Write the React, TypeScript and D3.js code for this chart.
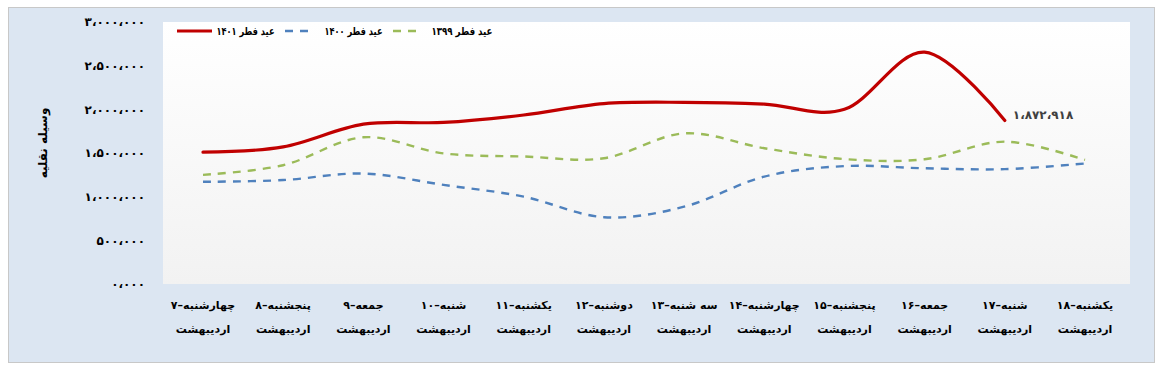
import React from "react";
import * as d3 from "d3";

const dayLabels = [
  "چهارشنبه–۷",
  "پنجشنبه–۸",
  "جمعه–۹",
  "شنبه–۱۰",
  "یکشنبه–۱۱",
  "دوشنبه–۱۲",
  "سه شنبه–۱۳",
  "چهارشنبه–۱۴",
  "پنجشنبه–۱۵",
  "جمعه–۱۶",
  "شنبه–۱۷",
  "یکشنبه–۱۸",
];
const monthLabel = "اردیبهشت";

const series1401: (number | null)[] = [1510000, 1570000, 1830000, 1850000, 1935000, 2065000, 2080000, 2060000, 2000000, 2655000, 1872918, null];
const series1400: number[] = [1170000, 1190000, 1265000, 1135000, 1000000, 765000, 885000, 1230000, 1350000, 1325000, 1315000, 1380000];
const series1399: number[] = [1250000, 1360000, 1680000, 1495000, 1460000, 1440000, 1725000, 1555000, 1430000, 1428000, 1630000, 1420000];

const yTicks = [0, 500000, 1000000, 1500000, 2000000, 2500000, 3000000];
const yTickLabels = ["۰،۰۰۰", "۵۰۰،۰۰۰", "۱،۰۰۰،۰۰۰", "۱،۵۰۰،۰۰۰", "۲،۰۰۰،۰۰۰", "۲،۵۰۰،۰۰۰", "۳،۰۰۰،۰۰۰"];
const yTitle = "وسیله نقلیه";
const legendNames = ["عید فطر ۱۴۰۱", "عید فطر ۱۴۰۰", "عید فطر ۱۳۹۹"];
const lastLabel = "۱،۸۷۲،۹۱۸";

const FONT = "'DejaVu Sans', sans-serif";

export default function App() {
  const W = 1163, H = 374;
  const plot = { x0: 163, y0: 22, x1: 1130, y1: 284 };
  const x = d3.scalePoint<number>().domain(d3.range(dayLabels.length)).range([203, 1085]);
  const y = d3.scaleLinear().domain([0, 3000000]).range([284, 22]);
  const line = d3
    .line<number | null>()
    .defined((d) => d !== null)
    .x((_, i) => x(i) as number)
    .y((d) => y(d as number))
    .curve(d3.curveCardinal.tension(0));

  const seriesDefs = [
    { name: legendNames[0], data: series1401, color: "#c00000", width: 3.2, dash: undefined as string | undefined },
    { name: legendNames[1], data: series1400, color: "#4f81bd", width: 2.4, dash: "8,7" },
    { name: legendNames[2], data: series1399, color: "#9bbb59", width: 2.4, dash: "8,7" },
  ];

  const legendItems = [
    { lx0: 177, lx1: 212, tx: 245.5, tw: 58 },
    { lx0: 285, lx1: 308, tx: 353.5, tw: 58 },
    { lx0: 393, lx1: 418, tx: 462, tw: 61 },
  ];

  const lastIdx = 10;

  return (
    <svg width={W} height={H} style={{ position: "absolute", left: 0, top: 0 }}>
      <defs>
        <linearGradient id="plotGrad" x1="0" y1="0" x2="0" y2="1">
          <stop offset="0" stopColor="#ffffff" />
          <stop offset="1" stopColor="#f2f2f2" />
        </linearGradient>
      </defs>
      <rect x={8.5} y={7.5} width={1146} height={355} fill="#dce6f2" stroke="#c8c8c8" strokeWidth={1} />
      <rect x={plot.x0} y={plot.y0} width={plot.x1 - plot.x0} height={plot.y1 - plot.y0} fill="url(#plotGrad)" />

      {yTicks.map((t, i) => (
        <text
          key={t}
          x={145}
          y={y(t)}
          dy="0.35em"
          textAnchor="end"
          fontFamily={FONT}
          fontWeight="bold"
          fontSize={12}
          fill="#000"
          direction="ltr"
        >
          {yTickLabels[i]}
        </text>
      ))}

      <text
        transform={`translate(47,143) rotate(-90)`}
        textAnchor="middle"
        fontFamily={FONT}
        fontWeight="bold"
        fontSize={12}
        direction="rtl"
      >
        {yTitle}
      </text>

      {dayLabels.map((d, i) => (
        <g key={i}>
          <text x={x(i)} y={309} textAnchor="middle" fontFamily={FONT} fontWeight="bold" fontSize={11} direction="rtl">
            {d}
          </text>
          <text x={x(i)} y={333} textAnchor="middle" fontFamily={FONT} fontWeight="bold" fontSize={11} direction="rtl">
            {monthLabel}
          </text>
        </g>
      ))}

      {seriesDefs.slice().reverse().map((s) => (
        <path
          key={s.name}
          d={line(s.data) || ""}
          fill="none"
          stroke={s.color}
          strokeWidth={s.width}
          strokeDasharray={s.dash}
          strokeLinecap={s.dash ? "butt" : "round"}
        />
      ))}

      <text
        x={(x(lastIdx) as number) + 8}
        y={y(series1401[lastIdx] as number) - 6}
        dy="0.35em"
        textAnchor="start"
        fontFamily={FONT}
        fontWeight="bold"
        fontSize={12}
        fill="#404040"
        direction="ltr"
      >
        {lastLabel}
      </text>

      {seriesDefs.map((s, i) => (
        <g key={s.name}>
          <line
            x1={legendItems[i].lx0}
            x2={legendItems[i].lx1}
            y1={31}
            y2={31}
            stroke={s.color}
            strokeWidth={s.width}
            strokeDasharray={s.dash}
          />
          <text
            x={legendItems[i].tx}
            y={35}
            textAnchor="middle"
            fontFamily={FONT}
            fontWeight="bold"
            fontSize={11}
            direction="rtl"
            textLength={legendItems[i].tw}
            lengthAdjust="spacingAndGlyphs"
          >
            {s.name}
          </text>
        </g>
      ))}
    </svg>
  );
}
